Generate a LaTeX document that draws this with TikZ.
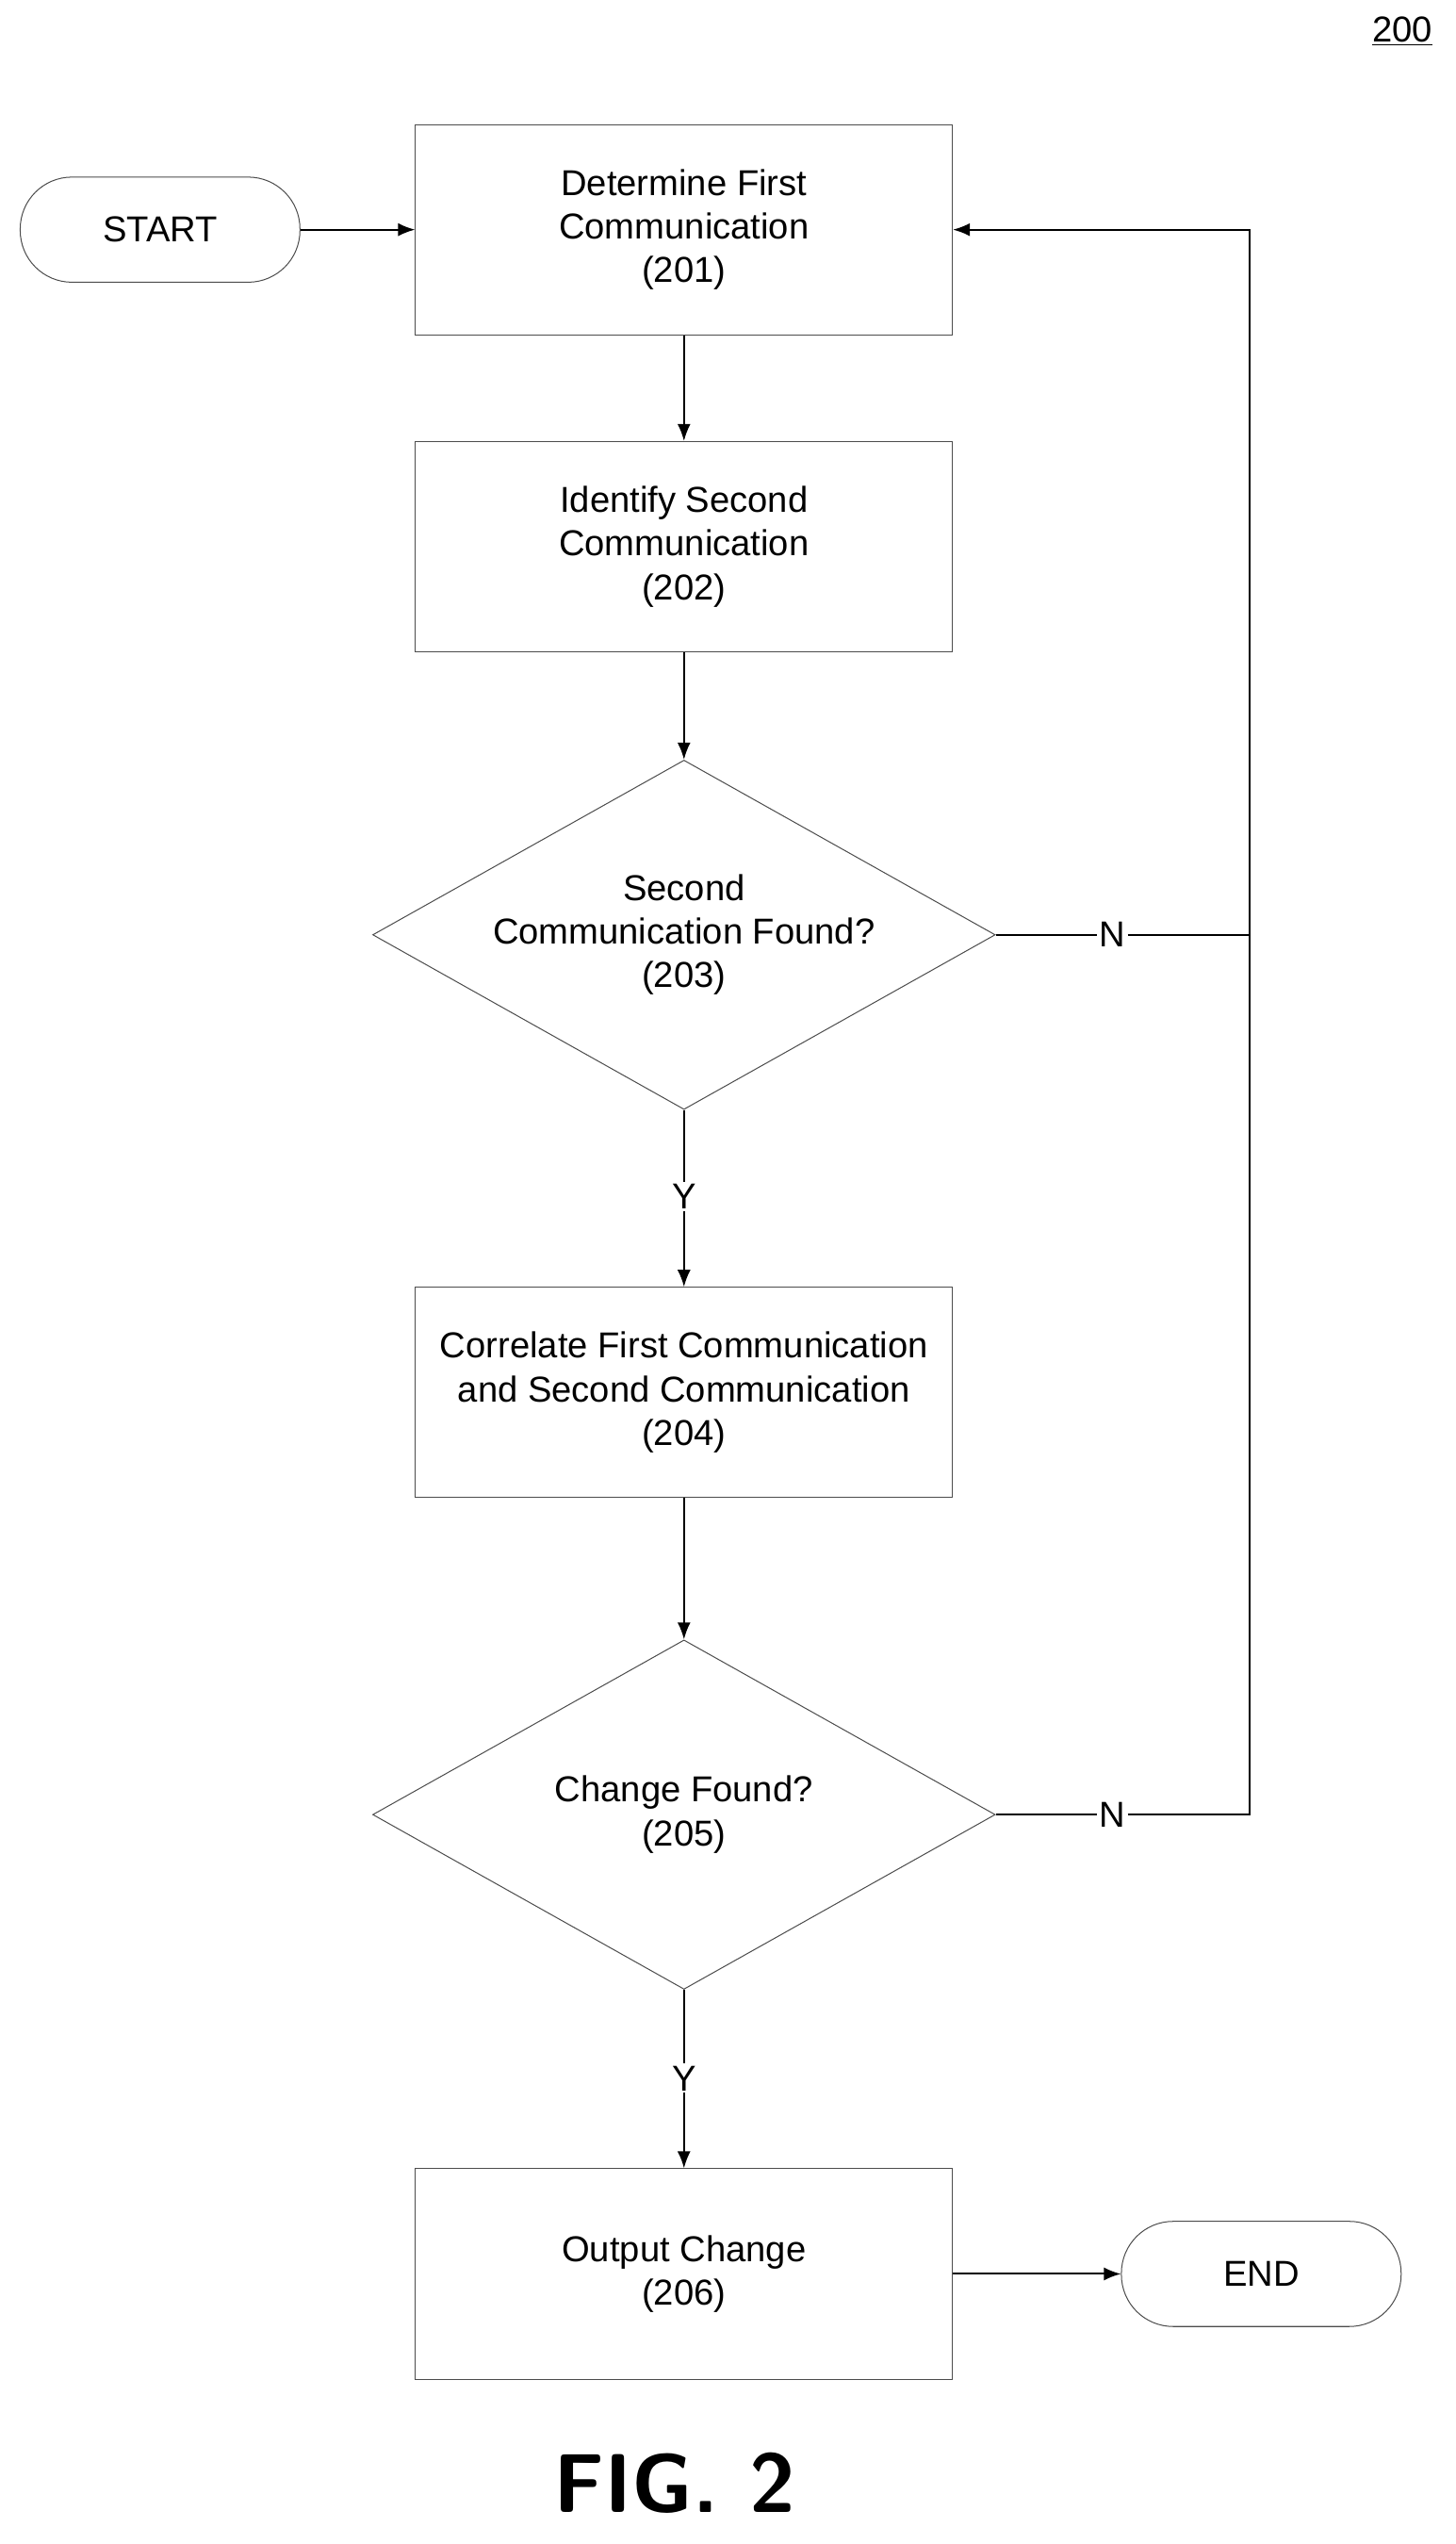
\documentclass[tikz,border=0pt]{standalone}
\usepackage{fontspec}
\setmainfont{Liberation Sans}
\usetikzlibrary{shapes.geometric,arrows.meta}
\begin{document}
\begin{tikzpicture}[x=0.03cm,y=-0.03cm,
  every node/.style={font=\fontsize{19}{23}\selectfont, align=center},
  box/.style={draw=black!70, line width=0.5pt, minimum width=332*0.03cm, minimum height=130*0.03cm, inner sep=0pt},
  dia/.style={draw=black!70, line width=0.5pt, diamond, aspect=1.78, minimum width=385*0.03cm, minimum height=216*0.03cm, inner sep=0pt},
  term/.style={draw=black!70, line width=0.5pt, rounded corners=32*0.03cm, minimum width=173*0.03cm, minimum height=65*0.03cm},
  arr/.style={line width=1pt, -{Latex[length=9pt,width=7pt]}},
  ln/.style={line width=1pt}]
\useasboundingbox (0,0) rectangle (900,1573);
\node[term] (start) at (99,142) {START};
\node[box] (b201) at (423,142) {Determine First\\Communication\\(201)};
\node[box] (b202) at (423,338) {Identify Second\\Communication\\(202)};
\node[dia] (d203) at (423,578) {Second\\Communication Found?\\(203)};
\node[box] (b204) at (423,861) {Correlate First Communication\\and Second Communication\\(204)};
\node[dia] (d205) at (423,1122) {Change Found?\\(205)};
\node[box] (b206) at (423,1406) {Output Change\\(206)};
\node[term] (end) at (780,1406) {END};
\node[inner sep=1pt] (y1) at (423,740) {Y};
\node[inner sep=1pt] (y2) at (423,1285) {Y};
\node[inner sep=1pt] (n1) at (688,578) {N};
\node[inner sep=1pt] (n2) at (688,1122) {N};
\coordinate (c1) at (773,578);
\coordinate (c2) at (773,1122);
\coordinate (c0) at (773,142);
\node[anchor=north east, inner sep=0pt] (lbl) at (886,10) {\underline{200}};
\node[font=\fontsize{44}{50}\selectfont\bfseries\sffamily] (fig) at (417,1535) {FIG. 2};
\draw[arr] (start) -- (b201);
\draw[arr] (b201) -- (b202);
\draw[arr] (b202) -- (d203);
\draw[ln] (d203) -- (y1);
\draw[arr] (y1) -- (b204);
\draw[arr] (b204) -- (d205);
\draw[ln] (d205) -- (y2);
\draw[arr] (y2) -- (b206);
\draw[arr] (b206) -- (end);
\draw[ln] (d203.east) -- (n1);
\draw[ln] (n1) -- (c1);
\draw[ln] (d205.east) -- (n2);
\draw[ln] (n2) -- (c2) -- (c1);
\draw[arr] (c1) -- (c0) -- (b201.east);
\end{tikzpicture}
\end{document}
